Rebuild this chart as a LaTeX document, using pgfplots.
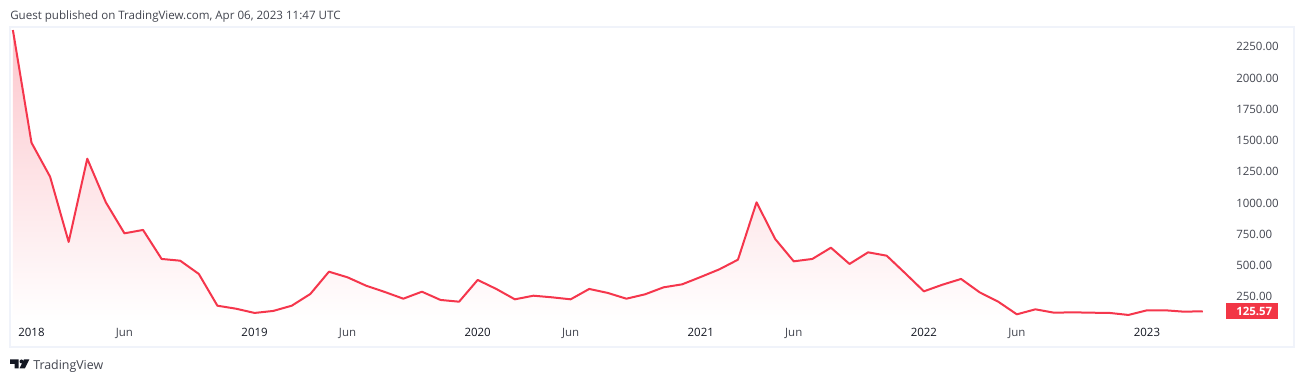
\documentclass[border=0pt]{standalone}
\usepackage{fontspec}
\setmainfont{Open Sans}
\usepackage{pgfplots}
\pgfplotsset{compat=1.18}
\usepackage{pgfplotstable}
\newdimen\px \px=0.75pt
\definecolor{tvred}{HTML}{F23645}
\definecolor{tvline}{HTML}{F5364C}
\definecolor{tvframe}{HTML}{F0F3FA}
\definecolor{tvdark}{HTML}{131722}
\definecolor{tvgray}{HTML}{42454F}
\pgfplotstableread{
i v
0 2375
1 1474
2 1202
3 680
4 1346
5 997
6 749
7 776
8 544
9 530
10 424
11 170
12 146
13 112
14 128
15 170
16 264
17 442
18 397
19 330
20 280
21 226
22 282
23 216
24 202
25 376
26 304
27 221
28 250
29 237
30 221
31 304
32 272
33 226
34 261
35 317
36 341
37 400
38 461
39 538
40 997
41 704
42 525
43 544
44 634
45 504
46 597
47 570
48 429
49 285
50 338
51 384
52 277
53 202
54 101
55 141
56 114
57 117
58 114
59 112
60 96
61 133
62 133
63 122
64 125.57
}\series
\begin{document}
\begin{tikzpicture}[x=1\px,y=1\px]
\useasboundingbox (0,0) rectangle (1304,382);
\fill[white] (0,0) rectangle (1304,382);
\draw[tvframe,line width=2\px] (10,35) rectangle (1294,355);
\node[anchor=base west,inner sep=0,text=tvgray,font=\fontsize{8.68pt}{10pt}\selectfont] at (10,362)
  {Guest published on TradingView.com, Apr 06, 2023 11:47 UTC};
\begin{axis}[
  at={(11\px,60\px)},anchor=south west,
  width=1212\px,height=294\px,scale only axis,
  xmin=-0.102,xmax=65.09,ymin=39.6,ymax=2391.6,
  axis line style={draw=none},
  major tick length=0pt,
  clip=false,
  axis y line*=right,
  axis x line*=bottom,
  ytick={250,500,750,1000,1250,1500,1750,2000,2250},
  yticklabels={250.00,500.00,750.00,1000.00,1250.00,1500.00,1750.00,2000.00,2250.00},
  y tick label style={anchor=west,inner sep=0pt,xshift=13\px,yshift=-1\px,text=tvgray,font=\fontsize{8.6pt}{10pt}\selectfont},
  extra y ticks={125.57},
  extra y tick labels={\hspace*{4\px}125.57},
  extra y tick style={y tick label style={anchor=west,inner sep=0pt,xshift=-10\px,yshift=1\px,fill=tvred,text=white,minimum width=52\px,minimum height=16\px,align=center,font=\fontsize{8.6pt}{10pt}\selectfont\bfseries}},
  xtick={1,6,13,18,25,30,37,42,49,54,61},
  xticklabels={\textcolor{tvdark}{2018},Jun,\textcolor{tvdark}{2019},Jun,\textcolor{tvdark}{2020},Jun,\textcolor{tvdark}{2021},Jun,\textcolor{tvdark}{2022},Jun,\textcolor{tvdark}{2023}},
  x tick label style={anchor=base,inner sep=0pt,yshift=-15\px,text=tvgray,font=\fontsize{8.6pt}{10pt}\selectfont},
]
\addplot[draw=none,top color=tvline!28,bottom color=white,shading angle=0] table[x=i,y=v]{\series} \closedcycle;
\addplot[tvline,line width=2\px,line join=round,no marks] table[x=i,y=v]{\series};
\end{axis}
\fill[tvdark] (10,22.5) -- (18.5,22.5) -- (18.5,13.5) -- (14.5,13.5) -- (14.5,18) -- (10,18) -- cycle;
\fill[tvdark] (21.5,20.5) circle[radius=2];
\fill[tvdark] (29.3,22.5) -- (24.8,13.5) -- (19.5,13.5) -- (24,22.5) -- cycle;
\node[anchor=base west,inner sep=0,text=tvgray,font=\fontsize{9.3pt}{10pt}\selectfont] at (33,12.5) {TradingView};
\end{tikzpicture}
\end{document}
